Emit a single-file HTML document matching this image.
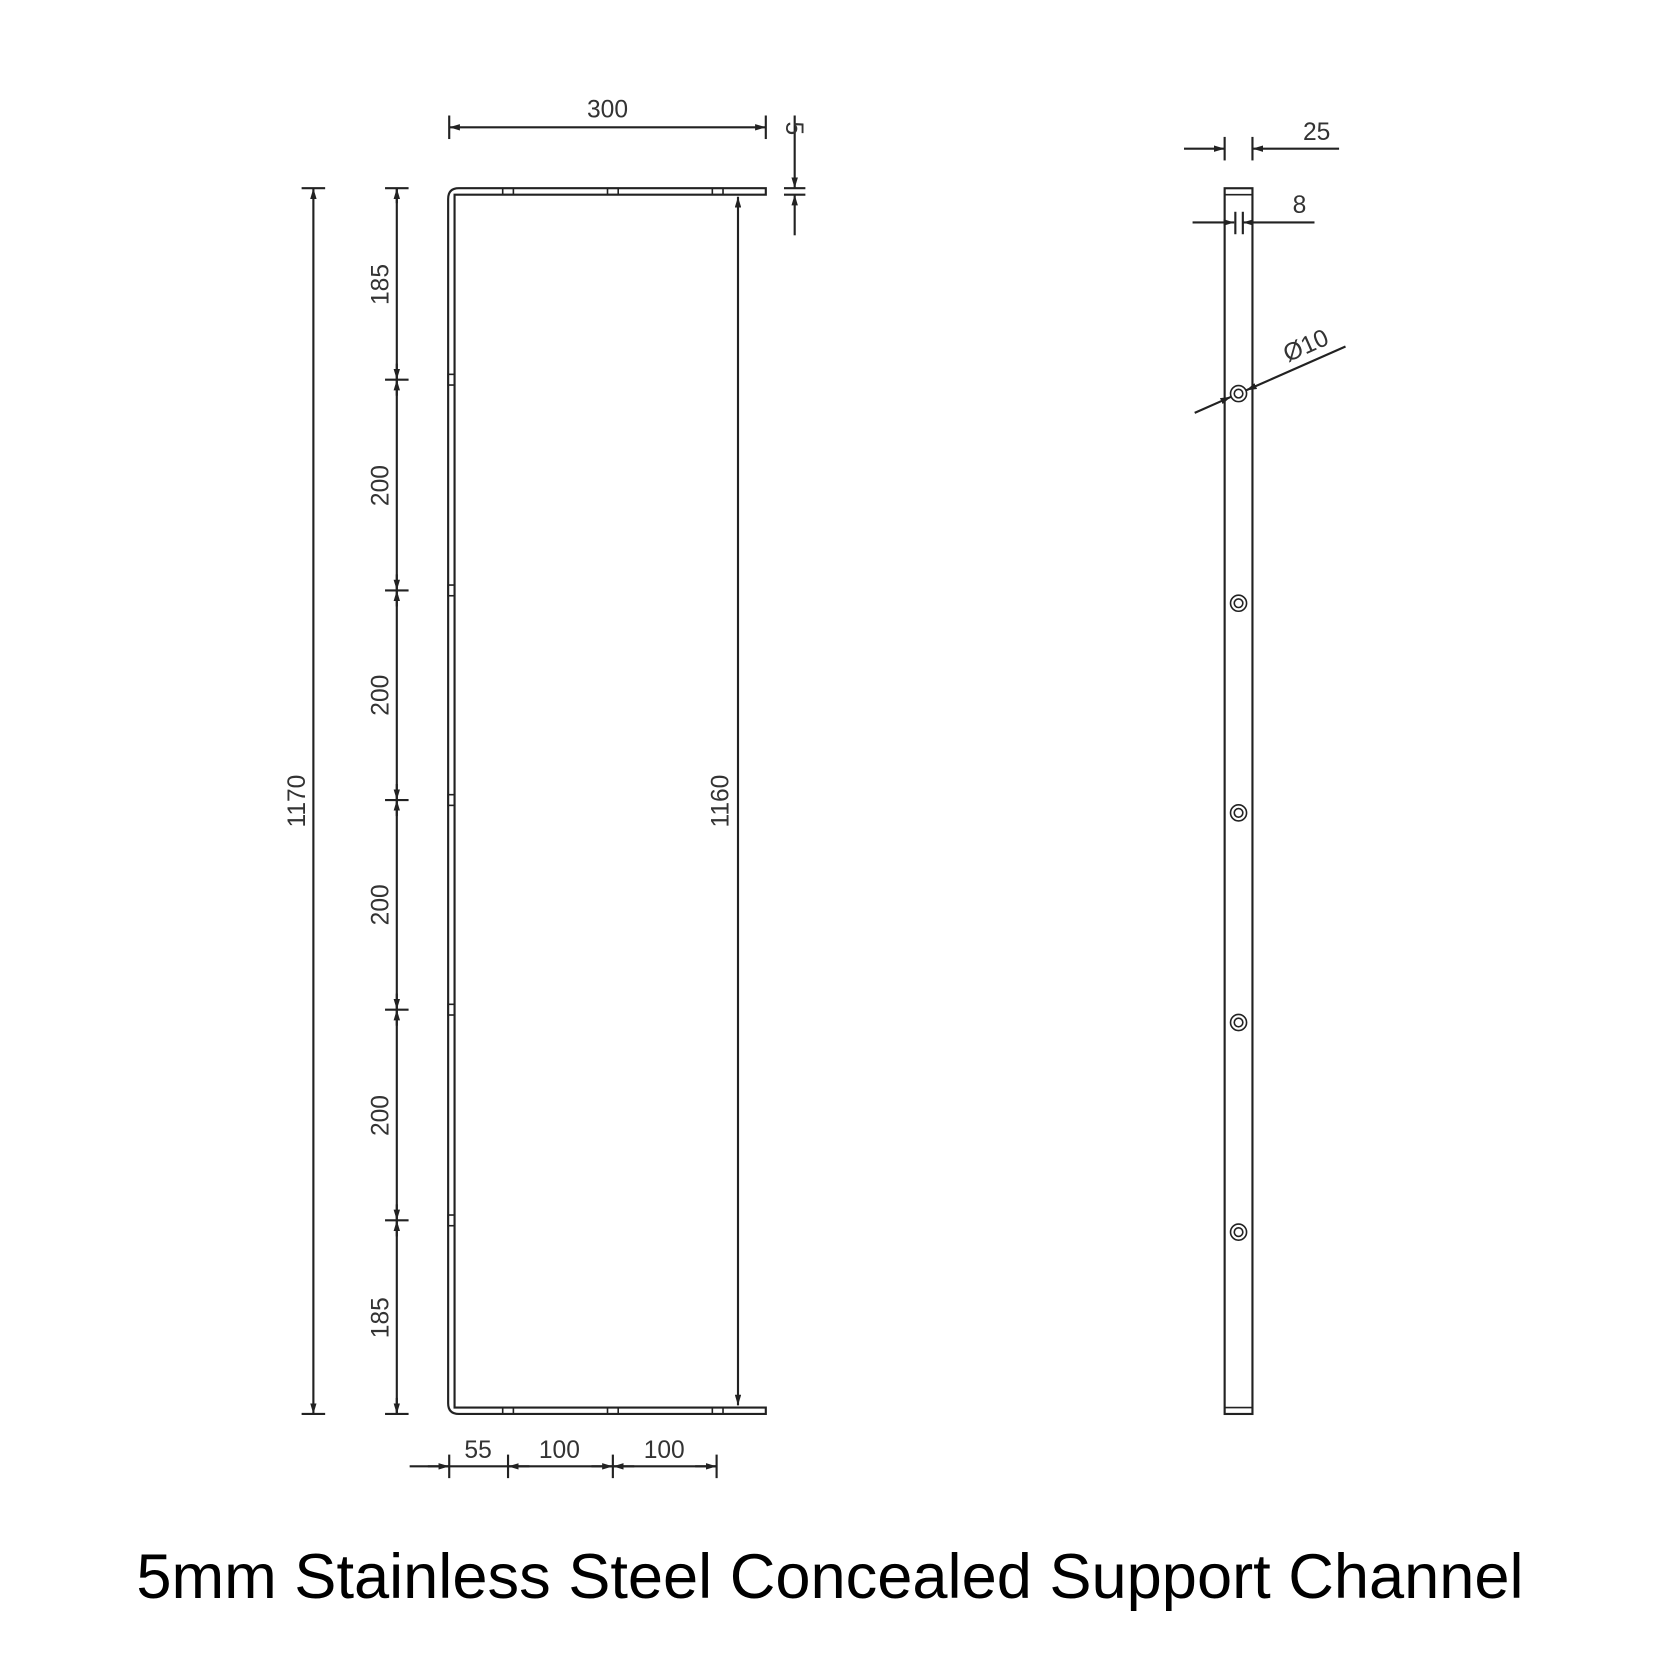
<!DOCTYPE html>
<html><head><style>html,body{margin:0;padding:0;background:#fff}svg{display:block}</style></head>
<body>
<svg width="1676" height="1676" viewBox="0 0 1567 1567" xmlns="http://www.w3.org/2000/svg" font-family="Liberation Sans, sans-serif">
<defs>
<marker id="a" viewBox="0 0 10 6" refX="10" refY="3" markerWidth="10" markerHeight="6" orient="auto-start-reverse" markerUnits="userSpaceOnUse"><path d="M0,0 L10,3 L0,6 z" fill="#222"/></marker>
</defs>
<g stroke="#222" stroke-width="2" fill="none">
<path d="M716,176 H429 Q419,176 419,186 V1312 Q419,1322 429,1322 H716 V1316 H425 V182 H716 Z"/>
<g stroke-width="1.5">
<rect x="470" y="176" width="10" height="6"/><rect x="568" y="176" width="10" height="6"/><rect x="666" y="176" width="10" height="6"/>
<rect x="470" y="1316" width="10" height="6"/><rect x="568" y="1316" width="10" height="6"/><rect x="666" y="1316" width="10" height="6"/>
<rect x="419" y="350" width="6" height="10"/><rect x="419" y="547" width="6" height="10"/><rect x="419" y="743" width="6" height="10"/><rect x="419" y="939" width="6" height="10"/><rect x="419" y="1136" width="6" height="10"/>
</g>
<line x1="293" y1="176" x2="293" y2="1322" marker-start="url(#a)" marker-end="url(#a)"/>
<line x1="282" y1="176" x2="304" y2="176"/><line x1="282" y1="1322" x2="304" y2="1322"/>
<line x1="371" y1="176" x2="371" y2="1322"/>
<g>
<line x1="360" y1="176" x2="382" y2="176"/><line x1="360" y1="355" x2="382" y2="355"/><line x1="360" y1="552" x2="382" y2="552"/><line x1="360" y1="748" x2="382" y2="748"/><line x1="360" y1="944" x2="382" y2="944"/><line x1="360" y1="1141" x2="382" y2="1141"/><line x1="360" y1="1322" x2="382" y2="1322"/>
</g>
<line x1="371" y1="190" x2="371" y2="176" marker-end="url(#a)"/><line x1="371" y1="340" x2="371" y2="355" marker-end="url(#a)"/>
<line x1="371" y1="370" x2="371" y2="355" marker-end="url(#a)"/><line x1="371" y1="537" x2="371" y2="552" marker-end="url(#a)"/>
<line x1="371" y1="567" x2="371" y2="552" marker-end="url(#a)"/><line x1="371" y1="733" x2="371" y2="748" marker-end="url(#a)"/>
<line x1="371" y1="763" x2="371" y2="748" marker-end="url(#a)"/><line x1="371" y1="929" x2="371" y2="944" marker-end="url(#a)"/>
<line x1="371" y1="959" x2="371" y2="944" marker-end="url(#a)"/><line x1="371" y1="1126" x2="371" y2="1141" marker-end="url(#a)"/>
<line x1="371" y1="1156" x2="371" y2="1141" marker-end="url(#a)"/><line x1="371" y1="1307" x2="371" y2="1322" marker-end="url(#a)"/>
<line x1="690" y1="184" x2="690" y2="1314" marker-start="url(#a)" marker-end="url(#a)"/>
<line x1="420" y1="119" x2="716" y2="119" marker-start="url(#a)" marker-end="url(#a)"/>
<line x1="420" y1="108" x2="420" y2="130"/><line x1="716" y1="108" x2="716" y2="130"/>
<line x1="743" y1="108" x2="743" y2="176" marker-end="url(#a)"/><line x1="743" y1="220" x2="743" y2="182" marker-end="url(#a)"/>
<line x1="733" y1="176" x2="753" y2="176"/><line x1="733" y1="182" x2="753" y2="182"/>
<line x1="383" y1="1371" x2="670" y2="1371"/>
<line x1="420" y1="1360" x2="420" y2="1382"/><line x1="475" y1="1360" x2="475" y2="1382"/><line x1="573" y1="1360" x2="573" y2="1382"/><line x1="670" y1="1360" x2="670" y2="1382"/>
<line x1="400" y1="1371" x2="420" y2="1371" marker-end="url(#a)"/><line x1="495" y1="1371" x2="475" y2="1371" marker-end="url(#a)"/>
<line x1="553" y1="1371" x2="573" y2="1371" marker-end="url(#a)"/><line x1="593" y1="1371" x2="573" y2="1371" marker-end="url(#a)"/>
<line x1="650" y1="1371" x2="670" y2="1371" marker-end="url(#a)"/>
<rect x="1145" y="176" width="26" height="1146"/>
<line x1="1145" y1="182" x2="1171" y2="182" stroke-width="1.5"/><line x1="1145" y1="1316" x2="1171" y2="1316" stroke-width="1.5"/>
<g stroke-width="1.5">
<circle cx="1158" cy="368" r="7.5"/><circle cx="1158" cy="368" r="4"/>
<circle cx="1158" cy="564" r="7.5"/><circle cx="1158" cy="564" r="4"/>
<circle cx="1158" cy="760" r="7.5"/><circle cx="1158" cy="760" r="4"/>
<circle cx="1158" cy="956" r="7.5"/><circle cx="1158" cy="956" r="4"/>
<circle cx="1158" cy="1152" r="7.5"/><circle cx="1158" cy="1152" r="4"/>
</g>
<line x1="1107" y1="139" x2="1145" y2="139" marker-end="url(#a)"/><line x1="1252" y1="139" x2="1171" y2="139" marker-end="url(#a)"/>
<line x1="1145" y1="128" x2="1145" y2="150"/><line x1="1171" y1="128" x2="1171" y2="150"/>
<line x1="1115" y1="208" x2="1154" y2="208" marker-end="url(#a)"/><line x1="1229" y1="208" x2="1162" y2="208" marker-end="url(#a)"/>
<line x1="1155" y1="198" x2="1155" y2="219"/><line x1="1162" y1="198" x2="1162" y2="219"/>
<line x1="1117" y1="386" x2="1151" y2="371" marker-end="url(#a)"/><line x1="1258" y1="324" x2="1165" y2="365" marker-end="url(#a)"/>
</g>
<g fill="#333" font-size="23" text-anchor="middle">
<text x="568" y="110">300</text>
<text x="447" y="1363">55</text><text x="523" y="1363">100</text><text x="621" y="1363">100</text>
<text x="1231" y="131">25</text><text x="1215" y="199">8</text>
<text transform="translate(1224,330) rotate(-24)">Ø10</text>
<text transform="translate(285,749) rotate(-90)">1170</text>
<text transform="translate(681,749) rotate(-90)">1160</text>
<text transform="translate(363,266) rotate(-90)">185</text>
<text transform="translate(363,454) rotate(-90)">200</text>
<text transform="translate(363,650) rotate(-90)">200</text>
<text transform="translate(363,846) rotate(-90)">200</text>
<text transform="translate(363,1043) rotate(-90)">200</text>
<text transform="translate(363,1232) rotate(-90)">185</text>
<text transform="translate(735,120) rotate(90)">5</text>
</g>
<text x="776" y="1494" font-size="59" text-anchor="middle" textLength="1297" lengthAdjust="spacingAndGlyphs" fill="#000">5mm Stainless Steel Concealed Support Channel</text>
</svg>
</body></html>
